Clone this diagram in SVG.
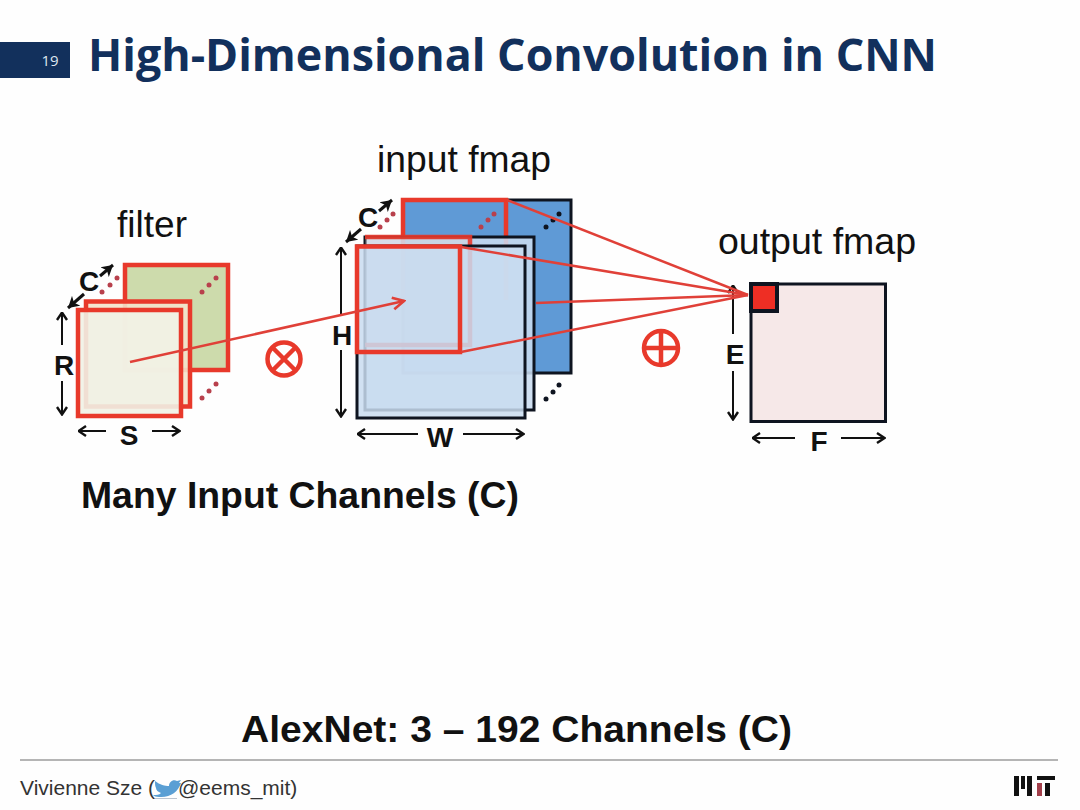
<svg xmlns="http://www.w3.org/2000/svg" width="1080" height="810" viewBox="0 0 1080 810">
<style>
text{font-family:"Liberation Sans",Arial,sans-serif;fill:#111}
.title{font-family:"Open Sans","Noto Sans",sans-serif;font-weight:700;font-size:45px;fill:#12305c}
.lbl{font-size:37px}
.dim{font-size:28px;font-weight:700;text-anchor:middle}
.red{fill:none;stroke:#e8392b;stroke-width:4.5}
.blk{stroke:#0e1420;stroke-width:3}
.ln{fill:none;stroke:#e04038;stroke-width:2.5}
.dimln{fill:none;stroke:#111;stroke-width:2;marker-end:url(#ah)}
.cln{fill:none;stroke:#111;stroke-width:3;marker-end:url(#ahc)}
.rd{fill:#b8404c}.bd{fill:#0e1420}
</style>
<defs>
<marker id="ah" viewBox="0 0 10 12" refX="9.500" refY="6" markerWidth="10" markerHeight="12" markerUnits="userSpaceOnUse" orient="auto"><path d="M1.500 1L9 6L1.500 11" fill="none" stroke="#111" stroke-width="2.400"/></marker>
<marker id="ahc" viewBox="0 0 12 14" refX="11" refY="7" markerWidth="12" markerHeight="14" markerUnits="userSpaceOnUse" orient="auto"><path d="M0 0.500L11 7L0 13.500L3 7Z" fill="#111"/></marker>
<marker id="ra" viewBox="0 0 14 14" refX="12.500" refY="7" markerWidth="15" markerHeight="15" markerUnits="userSpaceOnUse" orient="auto"><path d="M2 1.500L12.500 7L2 12.500" fill="none" stroke="#e04038" stroke-width="2.500"/></marker>
</defs>
<rect width="1080" height="810" fill="#fefefe"/>
<g id="header">
<rect x="0" y="42" width="70" height="36" fill="#12305c"/>
<text x="50" y="66" font-size="15" text-anchor="middle" style="font-family:'Open Sans',sans-serif;fill:#dfe6ef">19</text>
<text class="title" x="88" y="71" textLength="849" lengthAdjust="spacingAndGlyphs">High-Dimensional Convolution in CNN</text>
</g>
<g id="filter">
<text class="lbl" x="117" y="237" textLength="70" lengthAdjust="spacingAndGlyphs">filter</text>
<rect x="125" y="265" width="103" height="105" fill="#cddbac" stroke="#e8392b" stroke-width="4.500"/>
<rect x="86" y="301.500" width="104" height="105" fill="#f3e3cc" fill-opacity=".9" stroke="#e8392b" stroke-width="4.500"/>
<rect x="78" y="310" width="103" height="106" fill="#f1f2e5" fill-opacity=".9" stroke="#e8392b" stroke-width="4.500"/>
<g class="rd"><circle cx="102" cy="292" r="2.500"/><circle cx="110" cy="285" r="2.500"/><circle cx="117" cy="278" r="2.500"/><circle cx="202" cy="292" r="2.500"/><circle cx="209" cy="285" r="2.500"/><circle cx="216" cy="278" r="2.500"/><circle cx="202" cy="398" r="2.500"/><circle cx="209" cy="391" r="2.500"/><circle cx="216" cy="384" r="2.500"/></g>
<text class="dim" x="89" y="291">C</text>
<text class="dim" x="64" y="375">R</text>
<text class="dim" x="129" y="445">S</text>
<path class="cln" d="M84 294L68 308"/><path class="cln" d="M100 276L113 265"/>
<path class="dimln" d="M62 345V312"/><path class="dimln" d="M62 381V415"/>
<path class="dimln" d="M106 431H78"/><path class="dimln" d="M152 431H180"/>
</g>
<g id="input-fmap">
<text class="lbl" x="377" y="172" textLength="174" lengthAdjust="spacingAndGlyphs">input fmap</text>
<rect x="403" y="200" width="168" height="173" fill="#5f9ad6" class="blk"/>
<path class="red" d="M403 300V200H506V300"/>
<g class="rd"><circle cx="380" cy="227" r="2.500"/><circle cx="387" cy="220" r="2.500"/><circle cx="393" cy="214" r="2.500"/><circle cx="481" cy="227" r="2.500"/><circle cx="488" cy="220" r="2.500"/><circle cx="494" cy="214" r="2.500"/></g>
<g class="bd"><circle cx="546" cy="227" r="2.500"/><circle cx="553" cy="220" r="2.500"/><circle cx="559" cy="214" r="2.500"/><circle cx="546" cy="399" r="2.500"/><circle cx="553" cy="392" r="2.500"/><circle cx="559" cy="385" r="2.500"/></g>
<rect x="365" y="237" width="169" height="173" fill="#c9dcf0" fill-opacity=".88" class="blk"/>
<rect x="365" y="237" width="105" height="108" fill="#ead8d0" fill-opacity=".25" stroke="none"/>
<path d="M365 237H470V345H365" fill="none" stroke="#e8392b" stroke-width="4.500" stroke-opacity=".9"/>
<rect x="357" y="246" width="168" height="172" fill="#c9dcf0" fill-opacity=".85" class="blk"/>
<rect x="357" y="246.500" width="103" height="105.500" class="red"/>
<text class="dim" x="342" y="345">H</text>
<text class="dim" x="368" y="227">C</text>
<text class="dim" x="440" y="447">W</text>
<path class="cln" d="M361 229L346 242"/><path class="cln" d="M379 211L392 200"/>
<path class="dimln" d="M341 316V247"/><path class="dimln" d="M341 350V417"/>
<path class="dimln" d="M418 434H357"/><path class="dimln" d="M463 434H524"/>
</g>
<g id="output-fmap">
<text class="lbl" x="718" y="254" textLength="198" lengthAdjust="spacingAndGlyphs">output fmap</text>
<rect x="751" y="284" width="134.500" height="137.500" fill="#f6e8e8" stroke="#0e1420" stroke-width="3"/>
<rect x="751" y="284" width="26" height="27" fill="#ee2e24" stroke="#0e1420" stroke-width="4"/>
<text class="dim" x="735" y="364">E</text>
<text class="dim" x="819" y="451">F</text>
<path class="dimln" d="M733 334V285"/><path class="dimln" d="M733 371V420"/>
<path class="dimln" d="M795 438H752"/><path class="dimln" d="M841 438H885"/>
</g>
<g id="connectors">
<path class="ln" d="M507 200L748 295"/>
<path class="ln" d="M461 247L748 295"/>
<path class="ln" d="M536 303L748 295"/>
<path class="ln" d="M461 352L748 295"/>
<path class="ln" d="M130 362L404 301" marker-end="url(#ra)"/>
</g>
<g id="otimes" fill="none" stroke="#e8392b" stroke-width="4.500">
<circle cx="284" cy="359" r="16.500"/><path d="M272.500 347.500L295.500 370.500M295.500 347.500L272.500 370.500"/>
</g>
<g id="oplus" fill="none" stroke="#e8392b" stroke-width="4.500">
<circle cx="661" cy="348" r="17"/><path d="M644 348H678M661 331V365"/>
</g>
<g id="captions">
<text x="81" y="508" font-size="37" font-weight="700" textLength="438" lengthAdjust="spacingAndGlyphs">Many Input Channels (C)</text>
<text x="241" y="742" font-size="37" font-weight="700" textLength="551" lengthAdjust="spacingAndGlyphs">AlexNet: 3 – 192 Channels (C)</text>
</g>
<g id="footer">
<rect x="20" y="759" width="1038" height="2" fill="#b5b5b5"/>
<text x="20" y="795" font-size="21" style="fill:#333">Vivienne Sze (</text>
<path d="M155 781C160 785 165 786 169 786C169 782 173 779 177 781L181 780L179 783L181 783C178 792 170 798 159 797C156 797 154 796 153 795C157 795 159 795 161 793C158 792 156 790 156 788C155 786 155 784 155 781Z" fill="#5a9fd4"/>
<rect x="155" y="798" width="22" height="1" fill="#bcc5d0"/>
<text x="178" y="795" font-size="21" style="fill:#333">@eems_mit)</text>
<g id="mit-logo" fill="#111"><rect x="1014" y="776" width="5" height="20"/><rect x="1021" y="776" width="4" height="13"/><rect x="1027" y="776" width="5" height="20"/><rect x="1037" y="776" width="18" height="4"/><rect x="1037" y="783" width="5" height="13" fill="#a33f4b"/><rect x="1045" y="783" width="5" height="13"/></g>
</g>
</svg>
